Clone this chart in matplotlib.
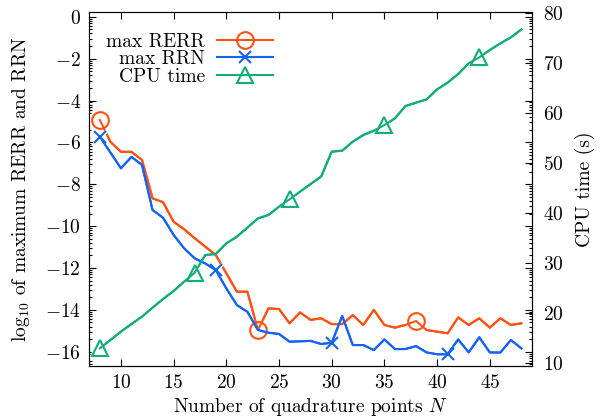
import numpy as np
import matplotlib
matplotlib.use("Agg")
import matplotlib.pyplot as plt
from matplotlib.ticker import FixedLocator, NullFormatter

plt.rcParams['font.family'] = 'serif'
plt.rcParams['font.serif'] = ['cmr10']
plt.rcParams['mathtext.fontset'] = 'cm'
plt.rcParams['axes.formatter.use_mathtext'] = True
plt.rcParams['axes.unicode_minus'] = True

# ---- data ----
N = list(range(8, 49))
max_rerr = [-4.93, -5.97, -6.45, -6.45, -6.84, -8.67, -8.86, -9.79, -10.15, -10.58,
            -10.98, -11.38, -12.25, -13.13, -13.13, -14.96, -13.93, -13.96, -14.64, -14.12,
            -14.48, -14.40, -14.68, -14.68, -14.25, -14.72, -14.00, -14.72, -14.85, -14.72,
            -14.53, -14.96, -15.04, -15.12, -14.36, -14.72, -14.40, -14.85, -14.40, -14.72,
            -14.64]
max_rrn = [-5.73, -6.48, -7.24, -6.69, -7.08, -9.23, -9.60, -10.42, -11.06, -11.54,
           -11.78, -12.10, -12.97, -13.77, -14.09, -14.96, -15.09, -15.15, -15.52, -15.50,
           -15.48, -15.63, -15.57, -14.29, -15.68, -15.68, -15.92, -15.41, -15.87, -15.87,
           -15.73, -16.03, -16.12, -16.12, -15.41, -16.03, -15.31, -16.03, -16.04, -15.44,
           -15.84]
cpu_time = [12.93, 14.6, 16.27, 17.8, 19.27, 21.07, 22.8, 24.4, 26.27, 28.07,
            31.6, 31.8, 33.93, 35.27, 37.07, 38.93, 39.6, 41.27, 42.73, 44.27,
            45.8, 47.3, 52.27, 52.47, 54.27, 55.6, 56.47, 57.6, 58.93, 61.4,
            62.07, 62.73, 64.73, 66.07, 67.8, 69.93, 71.13, 72.6, 73.93, 75.13,
            76.73]
labels = ["max RERR", "max RRN", "CPU time"]
x_ticks = [10, 15, 20, 25, 30, 35, 40, 45]
y_ticks = [0, -2, -4, -6, -8, -10, -12, -14, -16]
y2_ticks = [10, 20, 30, 40, 50, 60, 70, 80]

c_orange = '#fc5212'
c_blue = '#1464f4'
c_green = '#12ad7a'
FS = 14

fig = plt.figure(figsize=(6.01, 4.19), dpi=100)
ax = fig.add_axes([0.1486, 0.1265, 0.7365, 0.8455])
ax2 = ax.twinx()

lw = 1.5
def series(a, x, y, color, marker, every, ms, zo):
    a.plot(x, y, color=color, lw=lw, zorder=zo)
    a.plot(x, y, ls='none', marker=marker, markevery=every, ms=ms + 2,
           mfc='white', mec='white', mew=2.5, zorder=zo + 0.1)
    ln, = a.plot(x, y, color=color, lw=lw, marker=marker, markevery=every, ms=ms,
                 mfc='none', mec=color, mew=1.5, zorder=zo + 0.2)
    return ln

h1 = series(ax, N, max_rerr, c_orange, 'o', (0, 15), 12, 2)
h2 = series(ax, N, max_rrn, c_blue, 'x', (0, 11), 9, 3)
h3 = series(ax2, N, cpu_time, c_green, '^', (0, 9), 12, 2)

ax.set_xlim(7, 49)
ax.set_ylim(-16.68, 0.24)
ax2.set_ylim(9.4, 80.26)

ax.set_xticks(x_ticks)
ax.set_yticks(y_ticks)
minors = []
for m in range(-18, 0, 2):
    for k in range(2, 10):
        minors.append(m + 2 * np.log10(k))
ax.yaxis.set_minor_locator(FixedLocator(minors))
ax.yaxis.set_minor_formatter(NullFormatter())
ax.xaxis.set_minor_locator(FixedLocator([]))
ax2.set_yticks(y2_ticks)
ax2.yaxis.set_minor_locator(FixedLocator([]))

ax.tick_params(axis='both', which='major', direction='in', length=5, width=0.8,
               top=True, right=True, labelsize=FS, pad=6)
ax.tick_params(axis='y', which='minor', direction='in', length=2.5, width=0.8,
               right=True)
ax2.tick_params(axis='y', which='major', direction='in', length=5, width=0.8,
                labelsize=FS, pad=8)

ax.set_xlabel('Number of quadrature points $N$', fontsize=FS, labelpad=3)
ax.set_ylabel('log$_{10}$ of maximum RERR and RRN', fontsize=FS, labelpad=9)
ax2.set_ylabel('CPU time (s)', fontsize=FS, labelpad=8)

leg = ax2.legend([h1, h2, h3], labels, loc='upper right', bbox_to_anchor=(0.415, 0.94),
                 frameon=False, markerfirst=False, fontsize=FS, handlelength=2.9,
                 handletextpad=0.6, labelspacing=-0.03, borderpad=0, borderaxespad=0)

fig.savefig('out.png', dpi=100)
